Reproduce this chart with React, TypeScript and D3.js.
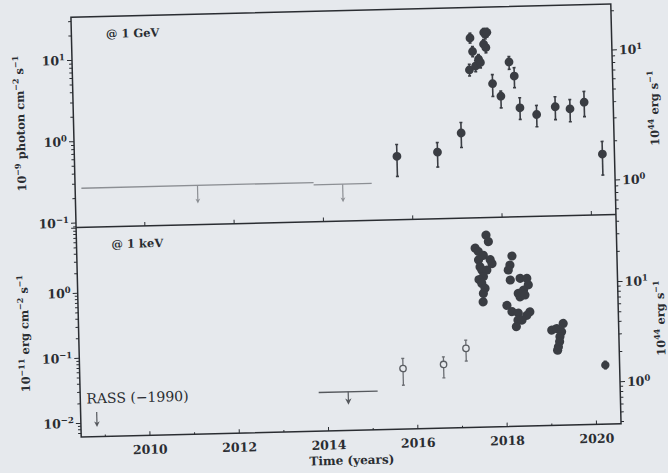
import React from 'react';
import * as d3 from 'd3';

// ---------- data ----------
// Fermi-LAT upper limits (flux at 1 GeV, 1e-9 photon cm^-2 s^-1)
const gevLimitFrom = [2008.6, 2013.8];
const gevLimitTo = [2013.8, 2015.1];
const gevLimitFlux = [0.267, 0.25];

// Fermi-LAT detections
const gevYears = [2015.68, 2016.59, 2017.13, 2017.35, 2017.38, 2017.43, 2017.49, 2017.56, 2017.6, 2017.68, 2017.69, 2017.72, 2017.73, 2017.76, 2017.86, 2018.04, 2018.24, 2018.35, 2018.46, 2018.83, 2019.25, 2019.58, 2019.9, 2020.28];
const gevFlux = [0.53, 0.58, 0.98, 5.8, 14.3, 9.75, 6.45, 7.8, 7.1, 11.9, 16.6, 15.8, 10.8, 16.6, 3.87, 2.7, 7.07, 4.73, 1.92, 1.57, 1.93, 1.8, 2.15, 0.49];
const gevLow = [0.3, 0.38, 0.65, 4.9, 12.4, 8.4, 5.5, 6.8, 6.1, 10.3, 14.6, 13.8, 9.3, 14.6, 2.7, 1.94, 5.74, 3.4, 1.38, 1.11, 1.34, 1.25, 1.43, 0.27];
const gevHigh = [0.74, 0.76, 1.32, 6.8, 16.4, 11.2, 7.5, 8.9, 8.2, 13.6, 18.6, 17.9, 12.4, 18.6, 5.0, 3.12, 8.24, 6.0, 2.55, 2.03, 2.56, 2.34, 2.92, 0.7];

// X-ray flux at 1 keV (1e-11 erg cm^-2 s^-1), open symbols
const xrayOpenYears = [2015.7, 2016.61, 2017.12];
const xrayOpenFlux = [0.0528, 0.0588, 0.102];
const xrayOpenLow = [0.0292, 0.0366, 0.065];
const xrayOpenHigh = [0.0753, 0.077, 0.136];

// X-ray monitoring, filled symbols
const xrayYears = [
  2017.63, 2017.68, 2017.38, 2017.45, 2017.56, 2017.71, 2017.75, 2017.45, 2017.48, 2017.52, 2017.63, 2017.55, 2017.45, 2017.51, 2017.58, 2017.54, 2017.53,
  2018.2, 2018.15, 2018.11, 2018.15, 2018.37, 2018.52, 2018.55, 2018.44, 2018.32, 2018.36, 2018.47, 2018.06, 2018.17, 2018.31, 2018.57, 2018.5, 2018.3, 2018.26, 2018.39,
  2019.05, 2019.16, 2019.31, 2019.27, 2019.23, 2019.22, 2019.19, 2019.17,
];
const xrayFlux = [
  5.5, 4.35, 3.5, 3.1, 2.7, 2.3, 2.0, 2.3, 1.8, 1.6, 1.6, 1.27, 1.15, 1.0, 0.84, 0.7, 0.52,
  2.57, 1.87, 1.57, 1.1, 1.16, 1.15, 0.91, 0.76, 0.68, 0.6, 0.64, 0.45, 0.36, 0.34, 0.35, 0.31, 0.265, 0.21, 0.264,
  0.18, 0.19, 0.226, 0.169, 0.142, 0.119, 0.099, 0.088,
];

// latest X-ray point with error bar
const xrayLateYears = [2020.23];
const xrayLateFlux = [0.05];
const xrayLateLow = [0.044];
const xrayLateHigh = [0.057];

// X-ray upper limits
const xrayLimitFrom = [2013.8];
const xrayLimitTo = [2015.12];
const xrayLimitFlux = [0.0243];
const rassYears = [2008.82];
const rassFlux = [0.0148];

const yearTicks = [2010, 2012, 2014, 2016, 2018, 2020];
const minorYearTicks = [2009, 2011, 2013, 2015, 2017, 2019];

// ---------- layout ----------
const W = 668;
const H = 473;
const X0 = 76;
const X1 = 616;
const TOP = 10.5;
const MID = 221;
const BOT = 430.5;

const BG = '#e6e9ed';
const INK = '#2a2d32';
const MARK = '#3a3d43';
const LIMIT = '#8c8f94';
const FONT = '"DejaVu Serif", serif';

const x = d3.scaleLinear().domain([2008.46, 2020.55]).range([X0, X1]);
const yGeV = d3.scaleLog().domain([0.088, 34]).range([MID, TOP]);
const yGeVLum = d3.scaleLog().domain([0.543, 22.6]).range([MID, TOP]);
const yX = d3.scaleLog().domain([0.00617, 10.23]).range([BOT, MID]);
const yXLum = d3.scaleLog().domain([0.38, 46.8]).range([BOT, MID]);

const isDecade = (v: number) => Math.abs(Math.log10(v) - Math.round(Math.log10(v))) < 1e-6;
const expText = (v: number) => {
  const e = Math.round(Math.log10(v));
  return e < 0 ? `\u2212${-e}` : `${e}`;
};

function Pow({ v, ...rest }: any) {
  return (
    <text {...rest}>
      10<tspan dy={-5} fontSize={8.5}>{expText(v)}</tspan>
    </text>
  );
}

function LogAxis({ scale, side, labels }: { scale: any; side: 'left' | 'right'; labels: number[] }) {
  const ax = side === 'left' ? X0 : X1;
  const dir = side === 'left' ? -1 : 1;
  const ticks: number[] = scale.ticks();
  return (
    <g>
      {ticks.map((t, i) => {
        const major = isDecade(t);
        const len = major ? 5 : 3;
        return (
          <line key={i} x1={ax} x2={ax + dir * len} y1={scale(t)} y2={scale(t)} stroke={INK} strokeWidth={1} />
        );
      })}
      {labels.map((v, i) => (
        <Pow
          key={'l' + i}
          v={v}
          x={side === 'left' ? ax - 7 : ax + 7}
          y={scale(v) + 4.5}
          textAnchor={side === 'left' ? 'end' : 'start'}
          fontSize={12.5}
          fontWeight="bold"
          fill={INK}
          fontFamily={FONT}
        />
      ))}
    </g>
  );
}

function ErrBar({ cx, yLo, yHi, color, w = 1.6 }: any) {
  return (
    <g stroke={color} strokeWidth={w}>
      <line x1={cx} x2={cx} y1={yLo} y2={yHi} />
      <line x1={cx - 1.5} x2={cx + 1.5} y1={yLo} y2={yLo} />
      <line x1={cx - 1.5} x2={cx + 1.5} y1={yHi} y2={yHi} />
    </g>
  );
}

function DownArrow({ cx, y, len, color, head = 3 }: any) {
  return (
    <g>
      <line x1={cx} x2={cx} y1={y} y2={y + len - head} stroke={color} strokeWidth={1.2} />
      <path d={`M${cx - head * 0.8},${y + len - head * 1.6} L${cx},${y + len} L${cx + head * 0.8},${y + len - head * 1.6} L${cx},${y + len - head * 1.1} Z`} fill={color} />
    </g>
  );
}

function LabelY({ x0, cy, parts }: { x0: number; cy: number; parts: [string, boolean][] }) {
  return (
    <text
      transform={`translate(${x0},${cy}) rotate(-90)`}
      textAnchor="middle"
      fontFamily={FONT}
      fontWeight="bold"
      fontSize={11.5}
      fill={INK}
    >
      {parts.map(([s, sup], i) => {
        const prevSup = i > 0 && parts[i - 1][1];
        const dy = sup ? -5 : prevSup ? 5 : 0;
        return (
          <tspan key={i} dy={dy} fontSize={sup ? 8 : 11.5}>
            {s}
          </tspan>
        );
      })}
    </text>
  );
}

export default function App() {
  const yearSpan = (a: number, b: number) => (x(a) + x(b)) / 2;
  return (
    <svg width={W} height={H} style={{ position: 'absolute', left: 0, top: 0 }} xmlns="http://www.w3.org/2000/svg">
      <rect width={W} height={H} fill={BG} />
      <g transform="rotate(-1.4 346 220.5)">
        {/* GeV upper limits */}
        {gevLimitFlux.map((f, i) => (
          <g key={'gl' + i}>
            <line x1={x(gevLimitFrom[i])} x2={x(gevLimitTo[i])} y1={yGeV(f)} y2={yGeV(f)} stroke={LIMIT} strokeWidth={1.3} />
            <DownArrow cx={yearSpan(gevLimitFrom[i], gevLimitTo[i])} y={yGeV(f)} len={18} color={LIMIT} head={3} />
          </g>
        ))}

        {/* GeV detections */}
        {gevYears.map((yr, i) => (
          <ErrBar key={'ge' + i} cx={x(yr)} yLo={yGeV(gevLow[i])} yHi={yGeV(gevHigh[i])} color={MARK} />
        ))}
        {gevYears.map((yr, i) => (
          <circle key={'gp' + i} cx={x(yr)} cy={yGeV(gevFlux[i])} r={4.4} fill={MARK} />
        ))}

        {/* X-ray upper limits */}
        {xrayLimitFlux.map((f, i) => (
          <g key={'xl' + i}>
            <line x1={x(xrayLimitFrom[i])} x2={x(xrayLimitTo[i])} y1={yX(f)} y2={yX(f)} stroke="#55585d" strokeWidth={1.3} />
            <DownArrow cx={yearSpan(xrayLimitFrom[i], xrayLimitTo[i])} y={yX(f)} len={13} color="#55585d" head={4} />
          </g>
        ))}
        {rassFlux.map((f, i) => (
          <DownArrow key={'ra' + i} cx={x(rassYears[i])} y={yX(f)} len={15} color="#55585d" head={3.5} />
        ))}

        {/* X-ray open symbols */}
        {xrayOpenYears.map((yr, i) => (
          <g key={'xo' + i}>
            <ErrBar cx={x(yr)} yLo={yX(xrayOpenLow[i])} yHi={yX(xrayOpenHigh[i])} color="#6a6d72" w={1.3} />
            <circle cx={x(yr)} cy={yX(xrayOpenFlux[i])} r={3.2} fill={BG} stroke="#5a5d62" strokeWidth={1.3} />
          </g>
        ))}

        {/* X-ray filled symbols */}
        {xrayYears.map((yr, i) => (
          <circle key={'xp' + i} cx={x(yr)} cy={yX(xrayFlux[i])} r={4.6} fill={MARK} />
        ))}
        {xrayLateYears.map((yr, i) => (
          <g key={'xd' + i}>
            <ErrBar cx={x(yr)} yLo={yX(xrayLateLow[i])} yHi={yX(xrayLateHigh[i])} color={MARK} />
            <circle cx={x(yr)} cy={yX(xrayLateFlux[i])} r={4.2} fill={MARK} />
          </g>
        ))}

        {/* frame */}
        <rect x={X0} y={TOP} width={X1 - X0} height={BOT - TOP} fill="none" stroke={INK} strokeWidth={1.5} />
        <line x1={X0} x2={X1} y1={MID} y2={MID} stroke={INK} strokeWidth={1.5} />

        {/* time ticks */}
        {yearTicks.map((t) => (
          <g key={'t' + t}>
            <line x1={x(t)} x2={x(t)} y1={BOT} y2={BOT - 4} stroke={INK} strokeWidth={1} />
            <line x1={x(t)} x2={x(t)} y1={MID} y2={MID - 4} stroke={INK} strokeWidth={1} />
            <text x={x(t)} y={BOT + 18.5} textAnchor="middle" fontFamily={FONT} fontWeight="bold" fontSize={12.5} fill={INK}>
              {t}
            </text>
          </g>
        ))}
        {minorYearTicks.map((t) => (
          <line key={'mt' + t} x1={x(t)} x2={x(t)} y1={BOT} y2={BOT - 2} stroke={INK} strokeWidth={1} />
        ))}

        {/* y axes */}
        <LogAxis scale={yGeV} side="left" labels={[10, 1, 0.1]} />
        <LogAxis scale={yGeVLum} side="right" labels={[10, 1]} />
        <LogAxis scale={yX} side="left" labels={[1, 0.1, 0.01]} />
        <LogAxis scale={yXLum} side="right" labels={[10, 1]} />

        {/* annotations */}
        <text x={110.5} y={32} fontFamily={FONT} fontWeight="bold" fontSize={11.5} fill={INK}>@ 1 GeV</text>
        <text x={111} y={MID + 21.5} fontFamily={FONT} fontWeight="bold" fontSize={11.5} fill={INK}>@ 1 keV</text>
        <text x={82} y={397} fontFamily={FONT} fontSize={14} fill={INK}>RASS ({'\u2212'}1990)</text>

        {/* axis titles */}
        <LabelY x0={27} cy={(TOP + MID) / 2} parts={[['10', false], ['\u22129', true], [' photon cm', false], ['\u22122', true], [' s', false], ['\u22121', true]]} />
        <LabelY x0={26} cy={(MID + BOT) / 2} parts={[['10', false], ['\u221211', true], [' erg cm', false], ['\u22122', true], [' s', false], ['\u22121', true]]} />
        <LabelY x0={661} cy={(TOP + MID) / 2} parts={[['10', false], ['44', true], [' erg s', false], ['\u22121', true]]} />
        <LabelY x0={662} cy={(MID + BOT) / 2} parts={[['10', false], ['44', true], [' erg s', false], ['\u22121', true]]} />
        <text x={(X0 + X1) / 2} y={BOT + 34} textAnchor="middle" fontFamily={FONT} fontWeight="bold" fontSize={12} fill={INK}>
          Time (years)
        </text>
      </g>
    </svg>
  );
}
